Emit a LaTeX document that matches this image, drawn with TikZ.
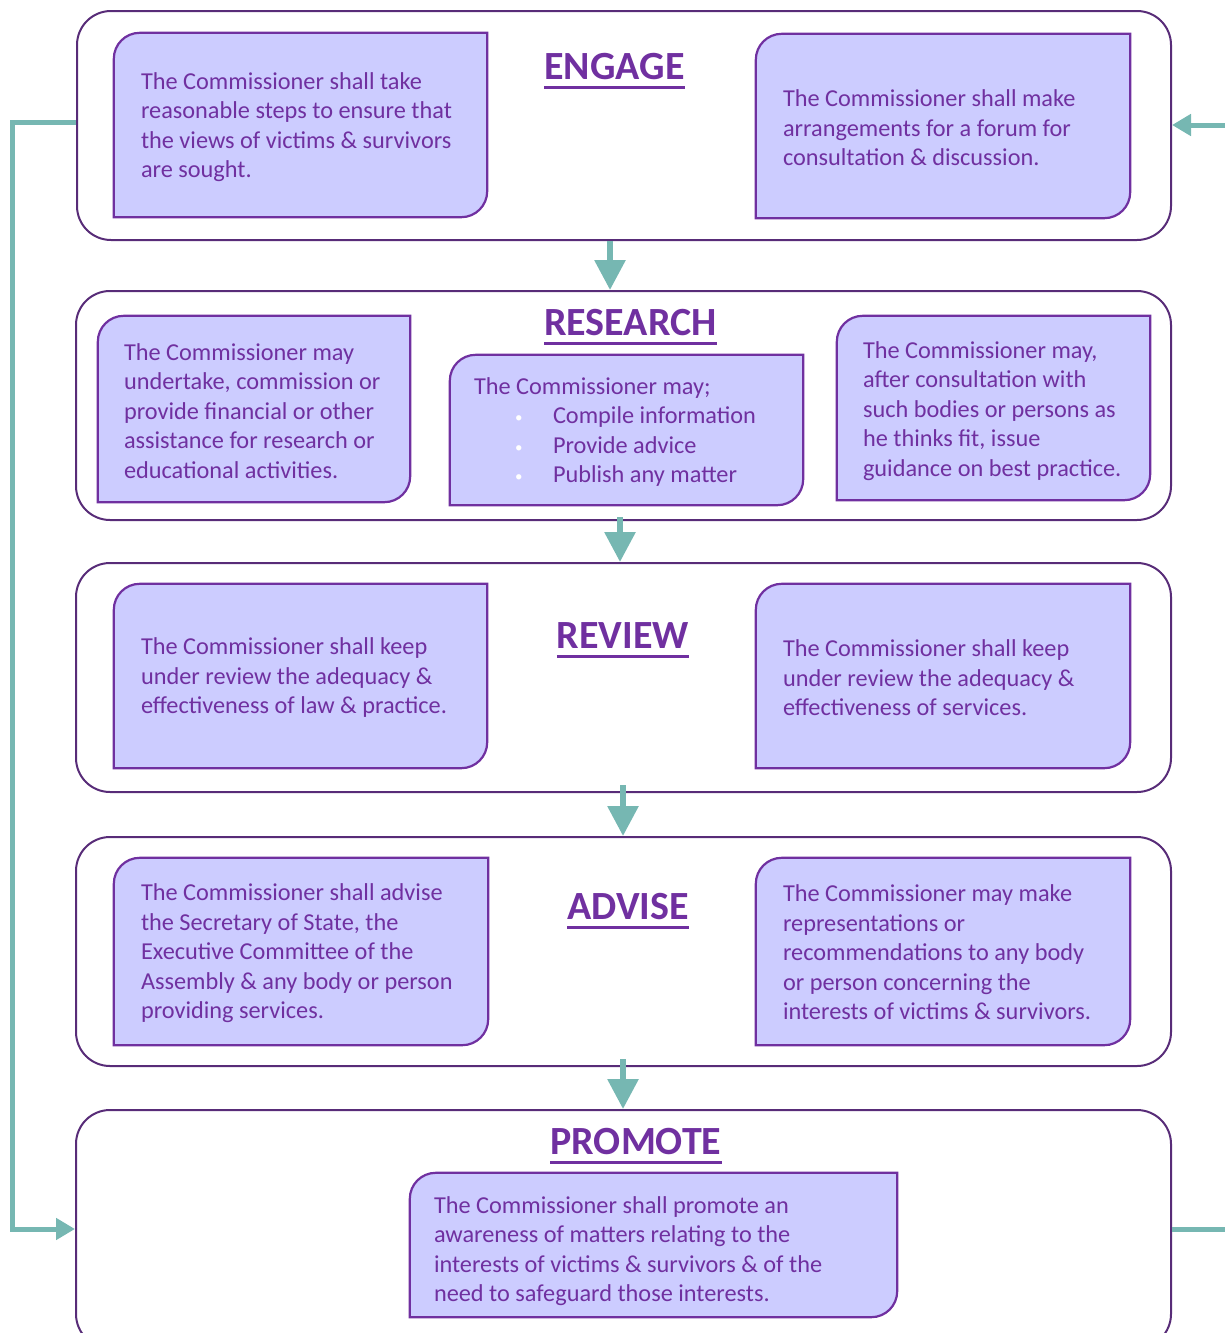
\documentclass[tikz,border=0pt]{standalone}
\usepackage{fontspec}
\setmainfont{Carlito}
\usetikzlibrary{calc,arrows.meta}
\definecolor{tpurple}{HTML}{7030A0}
\definecolor{bfill}{HTML}{CCCCFF}
\definecolor{obox}{RGB}{88,44,120}
\definecolor{tealc}{RGB}{118,183,178}
\tikzset{
 outerbox/.style={draw=obox, line width=2pt, rounded corners=34pt, inner sep=0pt},
 ibox/.style={draw=tpurple, fill=bfill, line width=2.2pt},
 btext/.style={inner sep=0pt, align=left, text=tpurple, font=\fontsize{24.3}{29.5}\selectfont},
 ttl/.style={inner sep=0pt, anchor=base, text=tpurple, font=\fontsize{40}{42}\selectfont\bfseries},
 flow/.style={draw=tealc, line width=6pt, -{Triangle[length=30pt,width=30pt]}},
 loopline/.style={draw=tealc, line width=5pt},
 looparrow/.style={loopline, -{Triangle[length=19pt,width=21pt]}},
}
\newcommand\mkbox[8]{%
 \pgfmathsetmacro\bw{#4-#2}\pgfmathsetmacro\bh{#5-#3}%
 \pgfmathsetmacro\cx{(#2+#4)/2}\pgfmathsetmacro\cy{(#3+#5)/2}%
 \node[inner sep=0pt, minimum width=\bw pt, minimum height=\bh pt] (#1) at (\cx,\cy) {};
 \draw[ibox] ($(#1.north west)+(0,26)$) .. controls ($(#1.north west)+(0,11.6)$) and ($(#1.north west)+(11.6,0)$) .. ($(#1.north west)+(26,0)$) -- (#1.north east) -- ($(#1.south east)+(0,-26)$) .. controls ($(#1.south east)+(0,-11.6)$) and ($(#1.south east)+(-11.6,0)$) .. ($(#1.south east)+(-26,0)$) -- (#1.south west) -- cycle;
 \node[btext, anchor=west] (#1t) at ($(#1.west)+(#6,#7)$) {#8};
}
\newcommand\mkttl[4]{%
 \node[ttl] (#1) at (#2,#3) {#4};
 \draw[tpurple, line width=3pt] ($(#1.base west)+(0,8)$) -- ($(#1.base east)+(0,8)$);
}
\newcommand\wbul{\hspace*{41pt}\makebox[38pt][l]{\raisebox{1pt}{\textcolor{white}{\fontsize{15}{15}\selectfont •}}}}
\begin{document}
\begin{tikzpicture}[x=1pt,y=-1pt]
\clip (0,0) rectangle (1225,1333);
\useasboundingbox (0,0) rectangle (1225,1333);
% outer boxes
\node[outerbox, minimum width=1094pt, minimum height=229pt] (eng) at (624,125.5) {};
\node[outerbox, minimum width=1095pt, minimum height=229pt] (res) at (623.5,405.5) {};
\node[outerbox, minimum width=1095pt, minimum height=229pt] (rev) at (623.5,677.5) {};
\node[outerbox, minimum width=1095pt, minimum height=229pt] (adv) at (623.5,951.5) {};
\node[outerbox, minimum width=1095pt, minimum height=238pt] (pro) at (623.5,1229) {};
% titles
\mkttl{tEng}{614.5}{79}{ENGAGE}
\mkttl{tRes}{630.5}{335}{RESEARCH}
\mkttl{tRev}{623}{648}{REVIEW}
\mkttl{tAdv}{628}{919}{ADVISE}
\mkttl{tPro}{636}{1154}{PROMOTE}
% inner boxes
\mkbox{el}{114}{33}{487}{217}{27}{2}{The Commissioner shall take\\reasonable steps to ensure that\\the views of victims \& survivors\\are sought.}
\mkbox{er}{756}{34}{1130}{218}{27}{2}{The Commissioner shall make\\arrangements for a forum for\\consultation \& discussion.}
\mkbox{rl}{98}{316}{410}{502}{26}{2}{The Commissioner may\\undertake, commission or\\provide financial or other\\assistance for research or\\educational activities.}
\mkbox{rm}{450}{355}{803}{505}{24}{2}{The Commissioner may;\\\wbul Compile information\\\wbul Provide advice\\\wbul Publish any matter}
\mkbox{rr}{837}{316}{1150}{500}{26}{3}{The Commissioner may,\\after consultation with\\such bodies or persons as\\he thinks fit, issue\\guidance on best practice.}
\mkbox{vl}{114}{584}{487}{768}{27}{2}{The Commissioner shall keep\\under review the adequacy \&\\effectiveness of law \& practice.}
\mkbox{vr}{756}{584}{1130}{768}{27}{2}{The Commissioner shall keep\\under review the adequacy \&\\effectiveness of services.}
\mkbox{al}{114}{858}{488}{1045}{27}{2}{The Commissioner shall advise\\the Secretary of State, the\\Executive Committee of the\\Assembly \& any body or person\\providing services.}
\mkbox{ar}{756}{858}{1130}{1045}{27}{1}{The Commissioner may make\\representations or\\recommendations to any body\\or person concerning the\\interests of victims \& survivors.}
\mkbox{pm}{410}{1173}{897}{1317}{24}{6}{The Commissioner shall promote an\\awareness of matters relating to the\\interests of victims \& survivors \& of the\\need to safeguard those interests.}
% vertical flow arrows
\coordinate (a1) at (610,0);
\coordinate (a2) at (620,0);
\coordinate (a3) at (623,0);
\draw[flow] (eng.south -| a1) -- (res.north -| a1);
\draw[flow] ($(res.south -| a2)+(0,-4)$) -- (rev.north -| a2);
\draw[flow] ($(rev.south -| a3)+(0,-8)$) -- (adv.north -| a3);
\draw[flow] ($(adv.south -| a3)+(0,-8)$) -- (pro.north -| a3);
% loop connectors
\coordinate (lx) at (12,0);
\coordinate (rtop) at (1225,125);
\coordinate (rbot) at (1225,1229);
\draw[looparrow] ([yshift=3.5pt]eng.west) -| (lx |- pro.west) -- (pro.west);
\draw[looparrow] (rtop) -- (eng.east |- rtop);
\draw[loopline] (pro.east |- rbot) -- (rbot);
\end{tikzpicture}
\end{document}
